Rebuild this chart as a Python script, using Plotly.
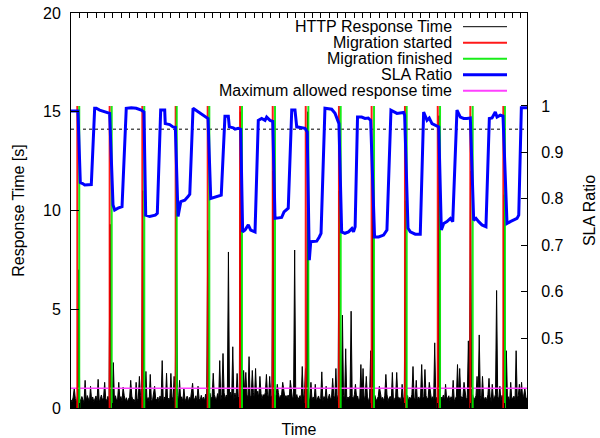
import plotly.graph_objects as go

# ---------------- data (time in minutes) ----------------
TIME_START = 0
TIME_END = 420

# HTTP response time baseline, one sample per minute (s)
resp_base = [
    0.42,0.31,0.55,0.38,0.47,0.29,0.6,0.36,0.5,0.33,0.58,0.4,0.27,0.52,0.35,0.63,0.41,0.3,0.49,0.37,
    0.56,0.32,0.45,0.61,0.34,0.5,0.28,0.44,0.66,0.39,0.53,0.3,0.47,0.36,0.59,0.33,0.42,0.55,0.29,0.48,
    0.38,0.62,0.35,0.5,0.27,0.45,0.58,0.33,0.41,0.64,0.36,0.52,0.3,0.47,0.55,0.32,0.6,0.39,0.44,0.31,
    0.57,0.37,0.49,0.28,0.62,0.4,0.51,0.34,0.46,0.68,0.35,0.53,0.31,0.58,0.42,0.36,0.65,0.3,0.48,0.39,
    0.55,0.33,0.61,0.4,0.47,0.29,0.56,0.38,0.7,0.34,0.5,0.43,0.31,0.59,0.37,0.52,0.28,0.46,0.63,0.35,
    0.49,0.4,0.57,0.32,0.66,0.38,0.45,0.6,0.3,0.54,0.41,0.72,0.36,0.5,0.44,0.62,0.33,0.58,0.47,0.39,
    0.64,0.42,0.55,0.36,0.7,0.48,0.6,0.39,0.75,0.45,0.58,0.4,0.68,0.5,0.43,0.73,0.47,0.62,0.41,0.69,
    0.52,0.78,0.44,0.66,0.5,0.72,0.46,0.8,0.55,0.63,0.42,0.76,0.49,0.7,0.57,0.45,0.82,0.53,0.67,0.48,
    0.74,0.56,0.69,0.45,0.8,0.51,0.65,0.58,0.77,0.47,0.71,0.54,0.85,0.5,0.62,0.73,0.46,0.68,0.59,0.79,
    0.52,0.7,0.48,0.76,0.57,0.64,0.44,0.72,0.55,0.67,0.5,0.78,0.46,0.61,0.69,0.43,0.74,0.53,0.63,0.49,
    0.66,0.41,0.58,0.7,0.45,0.6,0.38,0.55,0.68,0.42,0.52,0.63,0.37,0.57,0.48,0.71,0.4,0.54,0.62,0.36,
    0.5,0.65,0.39,0.56,0.44,0.69,0.35,0.53,0.61,0.4,0.48,0.66,0.34,0.58,0.45,0.62,0.38,0.51,0.7,0.42,
    0.55,0.36,0.63,0.47,0.59,0.33,0.68,0.43,0.52,0.6,0.37,0.64,0.46,0.71,0.4,0.56,0.49,0.62,0.35,0.58,
    0.45,0.67,0.39,0.54,0.61,0.34,0.5,0.73,0.42,0.57,0.36,0.65,0.48,0.6,0.32,0.55,0.44,0.69,0.38,0.52,
    0.63,0.35,0.49,0.58,0.31,0.66,0.43,0.54,0.37,0.61,0.46,0.7,0.33,0.51,0.59,0.4,0.64,0.36,0.48,0.56,
    0.34,0.6,0.45,0.53,0.3,0.67,0.41,0.57,0.38,0.5,0.63,0.35,0.55,0.44,0.69,0.32,0.52,0.47,0.6,0.37,
    0.56,0.43,0.65,0.33,0.5,0.58,0.39,0.62,0.46,0.54,0.31,0.68,0.42,0.57,0.36,0.61,0.48,0.53,0.35,0.64,
    0.4,0.55,0.47,0.66,0.34,0.59,0.43,0.52,0.62,0.37,0.57,0.45,0.7,0.33,0.51,0.6,0.41,0.56,0.38,0.63,
    0.47,0.58,0.35,0.64,0.42,0.53,0.6,0.32,0.55,0.46,0.67,0.39,0.52,0.61,0.36,0.57,0.44,0.65,0.34,0.5,
    0.59,0.41,0.54,0.37,0.68,0.45,0.56,0.33,0.62,0.48,0.51,0.7,0.38,0.6,0.43,0.55,0.35,0.64,0.46,0.53,
    0.36,0.61,0.49,0.57,0.32,0.66,0.44,0.52,0.6,0.39,0.55,0.47,0.63,0.34,0.58,0.42,0.5,0.65,0.37,0.54,
    0.45,
]

# response-time spikes (minute, seconds)
spike_t = [3, 7, 13, 18, 25, 31, 36, 39, 44, 48, 55, 60, 63, 66, 69, 73, 77, 84, 88, 92,
           95, 97, 100, 104, 112, 117, 126, 131, 137, 140, 145, 149, 153, 156, 159, 161, 164, 167, 170, 174,
           180, 183, 186, 190, 195, 202, 206, 213, 216, 218, 221, 225, 231, 235, 241, 244, 247, 250, 253, 258,
           262, 267, 269, 272, 276, 278, 284, 290, 296, 300, 305, 308, 315, 318, 323, 326, 330, 335, 339, 345,
           352, 356, 358, 362, 366, 368, 374, 376, 379, 385, 388, 392, 395, 399, 401, 405, 410, 413, 415, 418]
spike_v = [1.0, 7.0, 1.4, 1.1, 1.45, 1.3, 9.3, 2.3, 1.3, 1.05, 1.4, 1.3, 1.6, 11.0, 1.85, 1.7, 1.1, 2.4, 1.76, 1.75,
           1.6, 10.0, 1.4, 1.0, 1.25, 1.1, 9.0, 1.76, 2.4, 2.76, 7.9, 3.1, 1.75, 15.0, 1.9, 1.8, 2.6, 1.9, 2.0, 1.6,
           1.7, 1.6, 12.0, 1.2, 1.3, 1.4, 8.0, 2.1, 2.0, 15.0, 1.3, 1.2, 1.83, 1.1, 1.5, 2.0, 11.0, 4.7, 3.0, 4.9,
           1.2, 2.2, 2.0, 1.6, 2.9, 11.0, 1.1, 1.7, 1.8, 1.8, 1.2, 10.5, 2.1, 1.4, 2.2, 1.95, 1.3, 3.3, 14.8, 1.2,
           1.4, 2.2, 2.0, 1.3, 3.4, 12.0, 1.6, 3.7, 1.6, 1.5, 1.2, 5.95, 1.1, 10.8, 2.9, 1.3, 2.9, 1.2, 1.3, 1.0]

# migrations (minutes)
migration_started = [5.8, 35.6, 65.7, 96.4, 125.9, 155.7, 185.8, 216.2, 246.8, 276.9, 307.6, 337.8, 367.8, 398.2]
migration_finished = [7.6, 37.5, 67.5, 97.4, 127.4, 157.5, 187.9, 218.6, 248.4, 279.1, 309.2, 339.9, 370.0, 399.7]

# SLA ratio
sla_t = [0, 6.4, 8.6, 9.5, 12.6, 18.7, 21.8, 23.3, 26.4, 29.5, 32.5, 35.6, 38.7, 40.2, 43.3, 47.0, 50.9, 55.5, 60.1, 64.7,
         67.2, 68.8, 72.5, 77.6, 79.5, 82.6, 86.3, 86.8, 90.9, 93.9, 96.1, 98.6, 101.1, 104.8, 107.8, 109.4, 112.4, 117.0, 120.0, 123.7,
         126.2, 128.7, 132.3, 138.4, 141.8, 144.9, 145.8, 149.5, 151.1, 154.1, 156.3, 158.1, 160.3, 163.3, 165.5, 169.5, 172.5, 175.6, 178.7, 180.2,
         183.3, 185.8, 187.9, 194.0, 196.2, 198.7, 200.1, 203.3, 206.3, 207.9, 212.5, 215.5, 217.6, 219.5, 220.8, 226.3, 228.7, 230.3, 233.9, 240.1,
         243.2, 245.3, 246.8, 249.3, 252.3, 255.6, 258.7, 260.2, 261.7, 263.9, 267.7, 270.8, 273.8, 276.0, 279.6, 283.3, 287.9, 291.0, 294.7, 300.2,
         306.4, 307.3, 310.4, 312.5, 317.1, 321.7, 324.8, 327.9, 330.0, 332.5, 335.5, 338.7, 341.1, 343.3, 346.3, 349.4, 351.6, 355.5, 358.6, 361.7,
         364.7, 367.8, 370.9, 373.0, 375.5, 378.5, 382.2, 385.3, 387.8, 390.8, 392.4, 395.4, 397.9, 401.6, 404.6, 407.8, 410.8, 412.4, 414.8, 420]
sla_v = [0.989, 0.989, 0.833, 0.835, 0.830, 0.831, 0.995, 0.995, 0.991, 0.989, 0.987, 0.984, 0.787, 0.776, 0.780, 0.783, 0.995, 0.996, 0.995, 0.991,
         0.987, 0.765, 0.762, 0.765, 0.769, 0.991, 0.991, 0.962, 0.960, 0.955, 0.954, 0.762, 0.794, 0.797, 0.805, 0.810, 0.995, 0.987, 0.982, 0.976,
         0.973, 0.801, 0.804, 0.808, 0.978, 0.978, 0.955, 0.953, 0.950, 0.952, 0.950, 0.729, 0.733, 0.744, 0.733, 0.729, 0.969, 0.973, 0.969, 0.976,
         0.969, 0.967, 0.758, 0.760, 0.772, 0.776, 0.780, 0.991, 0.991, 0.955, 0.953, 0.952, 0.944, 0.668, 0.708, 0.709, 0.718, 0.726, 0.995, 0.993,
         0.984, 0.973, 0.962, 0.729, 0.726, 0.729, 0.736, 0.729, 0.740, 0.976, 0.976, 0.973, 0.974, 0.969, 0.718, 0.718, 0.722, 0.733, 0.991, 0.984,
         0.986, 0.980, 0.737, 0.729, 0.724, 0.724, 0.987, 0.969, 0.974, 0.962, 0.958, 0.955, 0.733, 0.747, 0.751, 0.758, 0.751, 0.991, 0.976, 0.973,
         0.973, 0.974, 0.754, 0.758, 0.751, 0.744, 0.740, 0.973, 0.974, 0.987, 0.976, 0.980, 0.978, 0.747, 0.751, 0.754, 0.758, 0.765, 0.996, 0.996]

MAX_RESPONSE = 1.0      # s
SLA_THRESHOLD = 0.95
MIGRATION_MARK = 1.0    # height of migration markers on SLA axis

y_ticks = [0, 5, 10, 15, 20]
y2_ticks = [0.5, 0.6, 0.7, 0.8, 0.9, 1.0]
y2_labels = ["0.5", "0.6", "0.7", "0.8", "0.9", "1"]

# ---------------- assemble ----------------
resp_t = list(range(TIME_START, TIME_END + 1))
resp_v = list(resp_base)
for t, v in zip(spike_t, spike_v):
    resp_v[t] = v

def vlines(ts, top):
    xs, ys = [], []
    for t in ts:
        xs += [t, t, None]
        ys += [0, top, None]
    return xs, ys

FONT = "Liberation Sans, Arial, sans-serif"
C_BLACK = "#000000"
C_RED = "rgba(255,0,0,0.9)"
C_GREEN = "rgba(0,235,0,0.9)"
C_BLUE = "#0000ff"
C_MAG = "#ff40ff"

fig = go.Figure()
fig.add_trace(go.Scatter(x=resp_t, y=resp_v, mode="lines", line=dict(color=C_BLACK, width=1),
                         fill="tozeroy", fillcolor=C_BLACK, name="HTTP Response Time", showlegend=False))
mx, my = vlines(migration_started, MIGRATION_MARK)
fig.add_trace(go.Scatter(x=mx, y=my, yaxis="y2", mode="lines", line=dict(color=C_RED, width=2),
                         name="Migration started", showlegend=False))
fx, fy = vlines(migration_finished, MIGRATION_MARK)
fig.add_trace(go.Scatter(x=fx, y=fy, yaxis="y2", mode="lines", line=dict(color=C_GREEN, width=2),
                         name="Migration finished", showlegend=False))
fig.add_trace(go.Scatter(x=sla_t, y=sla_v, yaxis="y2", mode="lines", line=dict(color=C_BLUE, width=3),
                         name="SLA Ratio", showlegend=False))
fig.add_trace(go.Scatter(x=[TIME_START, TIME_END], y=[MAX_RESPONSE, MAX_RESPONSE], mode="lines",
                         line=dict(color=C_MAG, width=1.5), name="Maximum allowed response time", showlegend=False))

# SLA threshold dotted line
fig.add_shape(type="line", xref="paper", x0=0, x1=1, yref="y2", y0=SLA_THRESHOLD, y1=SLA_THRESHOLD,
              line=dict(color="black", width=1, dash="dot"), layer="below")

W, H = 600, 438
PLOT_L, PLOT_R, PLOT_T, PLOT_B = 71, 527, 13, 408

def px2x(px):
    return (px - PLOT_L) / (PLOT_R - PLOT_L)
def py2y(py):
    return (PLOT_B - py) / (PLOT_B - PLOT_T)

# manual gnuplot-style legend (text left, sample right)
legend_items = [("HTTP Response Time", C_BLACK, 1),
                ("Migration started", C_RED, 2),
                ("Migration finished", C_GREEN, 2),
                ("SLA Ratio", C_BLUE, 3),
                ("Maximum allowed response time", C_MAG, 2)]
for i, (label, col, w) in enumerate(legend_items):
    ypix = 26.7 + 16 * i
    fig.add_annotation(xref="paper", yref="paper", x=px2x(454), y=py2y(ypix), text=label,
                       showarrow=False, xanchor="right", yanchor="middle",
                       font=dict(family=FONT, size=16, color="black"))
    fig.add_shape(type="line", xref="paper", yref="paper", x0=px2x(463), x1=px2x(507),
                  y0=py2y(ypix), y1=py2y(ypix), line=dict(color=col, width=w))

fig.update_layout(
    width=W, height=H,
    margin=dict(l=PLOT_L, r=W - PLOT_R, t=PLOT_T, b=H - PLOT_B, pad=0),
    paper_bgcolor="white", plot_bgcolor="white",
    font=dict(family=FONT, size=16, color="black"),
    showlegend=False,
    xaxis=dict(range=[TIME_START, TIME_END], showticklabels=False, ticks="inside", ticklen=5,
               tick0=0, dtick=7.675, tickcolor="black", showline=True, linecolor="black", linewidth=1,
               mirror="ticks", showgrid=False, zeroline=False,
               title=dict(text="Time", standoff=16, font=dict(size=16)), automargin=False),
    yaxis=dict(range=[0, 20], tickvals=y_ticks, ticks="inside", ticklen=8, tickcolor="black",
               showline=True, linecolor="black", linewidth=1, mirror=True, showgrid=False, zeroline=False,
               ticklabelstandoff=6, ticklabeloverflow="allow",
               title=dict(text="Response Time [s]", standoff=14, font=dict(size=16)), automargin=False),
    yaxis2=dict(range=[0.35, 1.2], overlaying="y", side="right", tickvals=y2_ticks, ticktext=y2_labels,
                ticks="inside", ticklen=6, tickcolor="black", showline=True, linecolor="black", linewidth=1,
                showgrid=False, zeroline=False, ticklabelstandoff=10, ticklabeloverflow="allow",
                title=dict(text="SLA Ratio", standoff=21, font=dict(size=16)), automargin=False),
)

# the page's default 8px body margin would shift the chart; remove it
fig.write_html("out.html", config={"displayModeBar": False},
               post_script="document.body.style.margin='0px';")
